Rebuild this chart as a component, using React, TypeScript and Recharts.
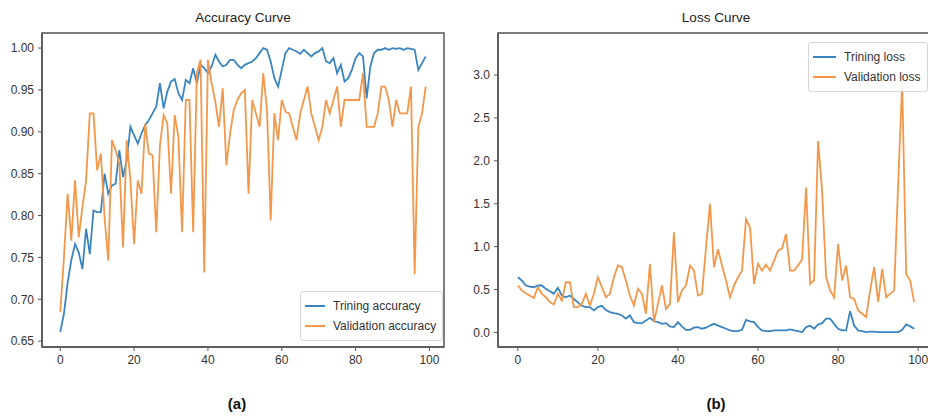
import React from "react";
import { LineChart, Line, XAxis, YAxis, Legend, ReferenceArea } from "recharts";

const epochs = Array.from({ length: 100 }, (_, i) => i);

const trainAcc = [
  0.661, 0.683, 0.72, 0.747, 0.766, 0.756, 0.736, 0.784, 0.754, 0.806,
  0.804, 0.804, 0.85, 0.826, 0.836, 0.838, 0.878, 0.846, 0.866, 0.906,
  0.896, 0.886, 0.898, 0.908, 0.914, 0.922, 0.93, 0.958, 0.928, 0.948,
  0.96, 0.963, 0.946, 0.938, 0.962, 0.958, 0.976, 0.958, 0.98, 0.976,
  0.97, 0.978, 0.992, 0.984, 0.978, 0.98, 0.986, 0.986, 0.98, 0.976,
  0.98, 0.982, 0.984, 0.988, 0.994, 1.0, 0.998, 0.984, 0.964, 0.954,
  0.974, 0.994, 1.0, 0.998, 0.996, 0.993, 0.998, 0.994, 0.99, 0.994,
  0.996, 1.0, 0.984, 0.982, 0.988, 0.97, 0.98, 0.96, 0.964, 0.974,
  0.988, 0.994, 0.99, 0.94, 0.978, 0.994, 0.998, 0.998, 1.0, 0.998,
  1.0, 0.999, 1.0, 0.998, 1.0, 0.999, 0.998, 0.974, 0.982, 0.99,
];

const valAcc = [
  0.685, 0.75, 0.826, 0.77, 0.842, 0.774, 0.81, 0.842, 0.922, 0.922,
  0.854, 0.874, 0.798, 0.746, 0.89, 0.878, 0.862, 0.762, 0.89, 0.842,
  0.766, 0.842, 0.826, 0.91, 0.874, 0.872, 0.78, 0.884, 0.92, 0.91,
  0.826, 0.92, 0.894, 0.78, 0.938, 0.938, 0.78, 0.97, 0.986, 0.732,
  0.986, 0.958, 0.936, 0.906, 0.952, 0.86, 0.898, 0.926, 0.938, 0.946,
  0.95, 0.826, 0.938, 0.922, 0.906, 0.97, 0.926, 0.794, 0.922, 0.89,
  0.938, 0.924, 0.922, 0.906, 0.89, 0.922, 0.938, 0.954, 0.922, 0.906,
  0.89, 0.906, 0.938, 0.922, 0.938, 0.954, 0.906, 0.938, 0.938, 0.938,
  0.938, 0.938, 0.97, 0.906, 0.906, 0.906, 0.922, 0.954, 0.954, 0.938,
  0.906, 0.938, 0.922, 0.922, 0.922, 0.954, 0.73, 0.906, 0.922, 0.954,
];

const trainLoss = [
  0.643, 0.605, 0.547, 0.535, 0.527, 0.547, 0.547, 0.508, 0.48, 0.45,
  0.52, 0.43, 0.41, 0.43, 0.39, 0.35, 0.31, 0.295, 0.295, 0.256,
  0.295, 0.31, 0.26, 0.236, 0.225, 0.217, 0.198, 0.16, 0.198, 0.12,
  0.108, 0.108, 0.14, 0.17, 0.13, 0.12, 0.1, 0.108, 0.07, 0.062,
  0.12, 0.07, 0.03, 0.03, 0.055, 0.062, 0.043, 0.055, 0.08, 0.1,
  0.08, 0.062, 0.043, 0.023, 0.015, 0.015, 0.03, 0.147, 0.13, 0.12,
  0.062, 0.023, 0.015, 0.015, 0.023, 0.023, 0.023, 0.023, 0.035, 0.023,
  0.015, 0.004, 0.062, 0.078, 0.043, 0.093, 0.108, 0.16, 0.16, 0.1,
  0.043, 0.023, 0.023, 0.248, 0.08, 0.023, 0.015, 0.004, 0.01, 0.01,
  0.004, 0.004, 0.004, 0.004, 0.004, 0.004, 0.03, 0.093, 0.07, 0.043,
];

const valLoss = [
  0.547, 0.49, 0.457, 0.43, 0.403, 0.527, 0.45, 0.41, 0.353, 0.325,
  0.45, 0.372, 0.585, 0.585, 0.295, 0.295, 0.333, 0.45, 0.314, 0.45,
  0.643, 0.527, 0.41, 0.45, 0.643, 0.78, 0.76, 0.605, 0.43, 0.314,
  0.508, 0.45, 0.217, 0.8, 0.12, 0.333, 0.547, 0.275, 0.333, 1.167,
  0.353, 0.49, 0.547, 0.78, 0.72, 0.43, 0.45, 0.99, 1.5, 0.76,
  0.97, 0.78, 0.605, 0.41, 0.547, 0.643, 0.72, 1.32, 1.225, 0.566,
  0.8, 0.72, 0.79, 0.72, 0.837, 0.953, 0.98, 1.147, 0.72, 0.72,
  0.78, 0.85, 1.69, 0.566, 0.605, 2.23, 1.65, 0.643, 0.49, 0.41,
  1.03, 0.605, 0.78, 0.41, 0.39, 0.256, 0.217, 0.178, 0.49, 0.76,
  0.353, 0.74, 0.41, 0.45, 0.49, 1.73, 2.91, 0.68, 0.605, 0.353,
];

const xTicks = [0, 20, 40, 60, 80, 100];
const accTicks = [0.65, 0.7, 0.75, 0.8, 0.85, 0.9, 0.95, 1.0];
const lossTicks = [0, 0.5, 1.0, 1.5, 2.0, 2.5, 3.0];

const accData = epochs.map((e, i) => ({ epoch: e, train: trainAcc[i], val: valAcc[i] }));
const lossData = epochs.map((e, i) => ({ epoch: e, train: trainLoss[i], val: valLoss[i] }));

const BLUE = "#3a84bf";
const ORANGE = "#f3974a";
const AXIS = "#555";
const FONT = "'Liberation Sans', Arial, sans-serif";
const X_DOMAIN: [number, number] = [-4.95, 103.95];

const tickStyle = { fill: "#333", fontSize: 12, fontFamily: FONT };

function LegendBox(props: any) {
  const { payload, sample } = props;
  return (
    <div
      style={{
        border: "1px solid #d8d8d8",
        borderRadius: 3,
        background: "rgba(255,255,255,0.85)",
        padding: "4px 6px 4px 4px",
        fontFamily: FONT,
        fontSize: 12,
        color: "#333",
        lineHeight: "20px",
        whiteSpace: "nowrap",
      }}
    >
      {(payload || []).map((p: any) => (
        <div key={p.value} style={{ display: "flex", alignItems: "center" }}>
          <span
            style={{
              display: "inline-block",
              width: sample,
              height: 0,
              borderTop: `2px solid ${p.color}`,
              marginRight: 8,
            }}
          />
          <span>{p.value}</span>
        </div>
      ))}
    </div>
  );
}

function fmtAcc(v: number) {
  return v.toFixed(2);
}
function fmtLoss(v: number) {
  return v.toFixed(1);
}

export default function App() {
  return (
    <div
      style={{
        position: "absolute",
        left: 0,
        top: 0,
        width: 928,
        height: 418,
        overflow: "hidden",
        background: "#fff",
        fontFamily: FONT,
      }}
    >
      <div style={{ position: "absolute", left: 42, width: 402, top: 10, textAlign: "center", fontSize: 13.5, color: "#222" }}>
        Accuracy Curve
      </div>
      <div style={{ position: "absolute", left: 498, width: 436, top: 10, textAlign: "center", fontSize: 13.5, color: "#222" }}>
        Loss Curve
      </div>
      <div style={{ position: "absolute", left: 200, width: 74, top: 395, textAlign: "center", fontSize: 15, fontWeight: 600, color: "#111" }}>
        (a)
      </div>
      <div style={{ position: "absolute", left: 679, width: 74, top: 395, textAlign: "center", fontSize: 15, fontWeight: 600, color: "#111" }}>
        (b)
      </div>

      <div style={{ position: "absolute", left: 0, top: 0 }}>
        <LineChart width={460} height={418} data={accData} margin={{ top: 33, right: 16, bottom: 41, left: 0 }}>
          <XAxis
            dataKey="epoch"
            type="number"
            domain={X_DOMAIN}
            ticks={xTicks}
            allowDataOverflow
            height={30}
            tickSize={4}
            tickMargin={4}
            tick={tickStyle}
            axisLine={{ stroke: AXIS, strokeWidth: 1.5 }}
            tickLine={{ stroke: AXIS }}
          />
          <YAxis
            type="number"
            domain={[0.643, 1.018]}
            ticks={accTicks}
            allowDataOverflow
            width={42}
            tickSize={4}
            tickMargin={4}
            tick={tickStyle}
            tickFormatter={fmtAcc}
            axisLine={{ stroke: AXIS, strokeWidth: 1.5 }}
            tickLine={{ stroke: AXIS }}
          />
          <ReferenceArea x1={X_DOMAIN[0]} x2={X_DOMAIN[1]} y1={0.643} y2={1.018} fill="none" stroke={AXIS} strokeWidth={1.5} />
          <Line type="linear" dataKey="train" name="Trining accuracy" stroke={BLUE} strokeWidth={1.8} dot={false} isAnimationActive={false} />
          <Line type="linear" dataKey="val" name="Validation accuracy" stroke={ORANGE} strokeWidth={1.8} dot={false} isAnimationActive={false} />
          <Legend
            layout="horizontal"
            verticalAlign="middle"
            align="center"
            wrapperStyle={{ left: 300, top: 291, width: "auto", height: "auto" }}
            content={(p: any) => <LegendBox payload={p.payload} sample={20} />}
          />
        </LineChart>
      </div>

      <div style={{ position: "absolute", left: 460, top: 0 }}>
        <LineChart width={480} height={418} data={lossData} margin={{ top: 33, right: 6, bottom: 41, left: 0 }}>
          <XAxis
            dataKey="epoch"
            type="number"
            domain={X_DOMAIN}
            ticks={xTicks}
            allowDataOverflow
            height={30}
            tickSize={4}
            tickMargin={4}
            tick={tickStyle}
            axisLine={{ stroke: AXIS, strokeWidth: 1.5 }}
            tickLine={{ stroke: AXIS }}
          />
          <YAxis
            type="number"
            domain={[-0.17, 3.49]}
            ticks={lossTicks}
            allowDataOverflow
            width={38}
            tickSize={4}
            tickMargin={4}
            tick={tickStyle}
            tickFormatter={fmtLoss}
            axisLine={{ stroke: AXIS, strokeWidth: 1.5 }}
            tickLine={{ stroke: AXIS }}
          />
          <ReferenceArea x1={X_DOMAIN[0]} x2={X_DOMAIN[1]} y1={-0.17} y2={3.49} fill="none" stroke={AXIS} strokeWidth={1.5} />
          <Line type="linear" dataKey="train" name="Trining loss" stroke={BLUE} strokeWidth={1.8} dot={false} isAnimationActive={false} />
          <Line type="linear" dataKey="val" name="Validation loss" stroke={ORANGE} strokeWidth={1.8} dot={false} isAnimationActive={false} />
          <Legend
            layout="horizontal"
            verticalAlign="middle"
            align="center"
            wrapperStyle={{ left: 348, top: 42, width: "auto", height: "auto" }}
            content={(p: any) => <LegendBox payload={p.payload} sample={23} />}
          />
        </LineChart>
      </div>
    </div>
  );
}
